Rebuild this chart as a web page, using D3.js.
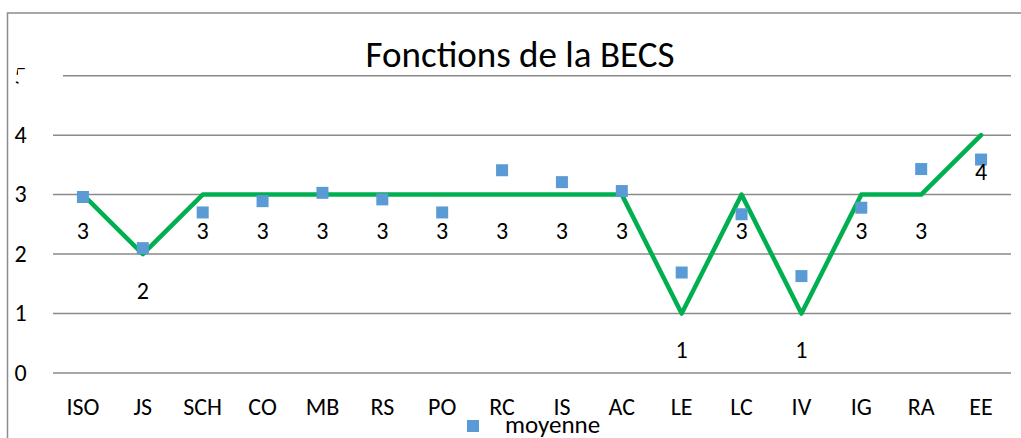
<!DOCTYPE html>
<html>
<head>
<meta charset="utf-8">
<script src="https://cdn.jsdelivr.net/npm/d3@7"></script>
<style>
  body { margin: 0; background: #fff; }
  svg { display: block; font-family: Carlito, Calibri, Lato, sans-serif; }
</style>
</head>
<body>
<svg id="chart" width="1021" height="438"></svg>
<script>
    const categories = ["ISO", "JS", "SCH", "CO", "MB", "RS", "PO", "RC", "IS", "AC", "LE", "LC", "IV", "IG", "RA", "EE"];
    // green line (integer scores) and blue squares (moyenne)
    const scores = [3, 2, 3, 3, 3, 3, 3, 3, 3, 3, 1, 3, 1, 3, 3, 4];
    const moyenne = [2.96, 2.10, 2.70, 2.89, 3.03, 2.92, 2.70, 3.41, 3.21, 3.06, 1.69, 2.67, 1.63, 2.78, 3.43, 3.59];
    const yTicks = [0, 1, 2, 3, 4, 5];

    var svg = d3.select("#chart");

    var x = d3.scaleBand()
        .domain(categories)
        .range([53, 1011])
        .padding(0);

    var y = d3.scaleLinear()
        .domain([0, 5])
        .range([373, 75.7]);

    var cx = d => x(d) + x.bandwidth() / 2;

    // outer frame (only left and top edges show)
    svg.append("path")
        .attr("d", "M7.5,438 V13 H1021")
        .attr("fill", "none")
        .attr("stroke", "#8c8c8c")
        .attr("stroke-width", 1.5);

    // gridlines
    svg.append("g")
        .selectAll("line")
        .data(yTicks)
        .enter()
        .append("line")
        .attr("x1", d => d == 5 ? 63 : 53)
        .attr("x2", 1011)
        .attr("y1", d => y(d))
        .attr("y2", d => y(d))
        .attr("stroke", "#8a8a8a")
        .attr("stroke-width", 1.5);

    // y tick labels, the top one is mostly hidden
    var clip = svg.append("defs").append("clipPath").attr("id", "clip5");
    clip.append("rect").attr("x", 10).attr("y", y(5) - 10).attr("width", 20).attr("height", 3.5);
    clip.append("rect").attr("x", 13).attr("y", y(5) - 10).attr("width", 5).attr("height", 9);
    clip.append("rect").attr("x", 13).attr("y", y(5) + 4).attr("width", 5.5).attr("height", 5);

    svg.append("g")
        .selectAll("text")
        .data(yTicks)
        .enter()
        .append("text")
        .attr("x", 20.5)
        .attr("y", d => y(d) + 7.8)
        .attr("text-anchor", "middle")
        .attr("clip-path", d => d == 5 ? "url(#clip5)" : null)
        .style("font-size", "24px")
        .text(d => d);

    // category labels
    svg.append("g")
        .selectAll("text")
        .data(categories)
        .enter()
        .append("text")
        .attr("x", d => cx(d))
        .attr("y", 415)
        .attr("text-anchor", "middle")
        .style("font-size", "24px")
        .text(d => d);

    // title
    svg.append("text")
        .attr("x", 520)
        .attr("y", 67)
        .attr("text-anchor", "middle")
        .style("font-size", "37px")
        .text("Fonctions de la BECS");

    // green line
    var line = d3.line()
        .x((d, i) => cx(categories[i]))
        .y(d => y(d));

    svg.append("path")
        .datum(scores)
        .attr("d", line)
        .attr("fill", "none")
        .attr("stroke", "#00b050")
        .attr("stroke-width", 4.5)
        .attr("stroke-linejoin", "round")
        .attr("stroke-linecap", "round");

    // moyenne squares
    svg.append("g")
        .selectAll("rect")
        .data(moyenne)
        .enter()
        .append("rect")
        .attr("x", (d, i) => cx(categories[i]) - 6)
        .attr("y", d => y(d) - 6)
        .attr("width", 12)
        .attr("height", 12)
        .attr("fill", "#5b9bd5");

    // data labels under the line points
    svg.append("g")
        .selectAll("text")
        .data(scores)
        .enter()
        .append("text")
        .attr("x", (d, i) => cx(categories[i]))
        .attr("y", d => y(d) + 44.5)
        .attr("text-anchor", "middle")
        .style("font-size", "24px")
        .text(d => d);

    // legend
    svg.append("rect")
        .attr("x", 467)
        .attr("y", 420)
        .attr("width", 12)
        .attr("height", 12)
        .attr("fill", "#5b9bd5");

    svg.append("text")
        .attr("x", 505)
        .attr("y", 433)
        .style("font-size", "25px")
        .text("moyenne");
</script>
</body>
</html>
